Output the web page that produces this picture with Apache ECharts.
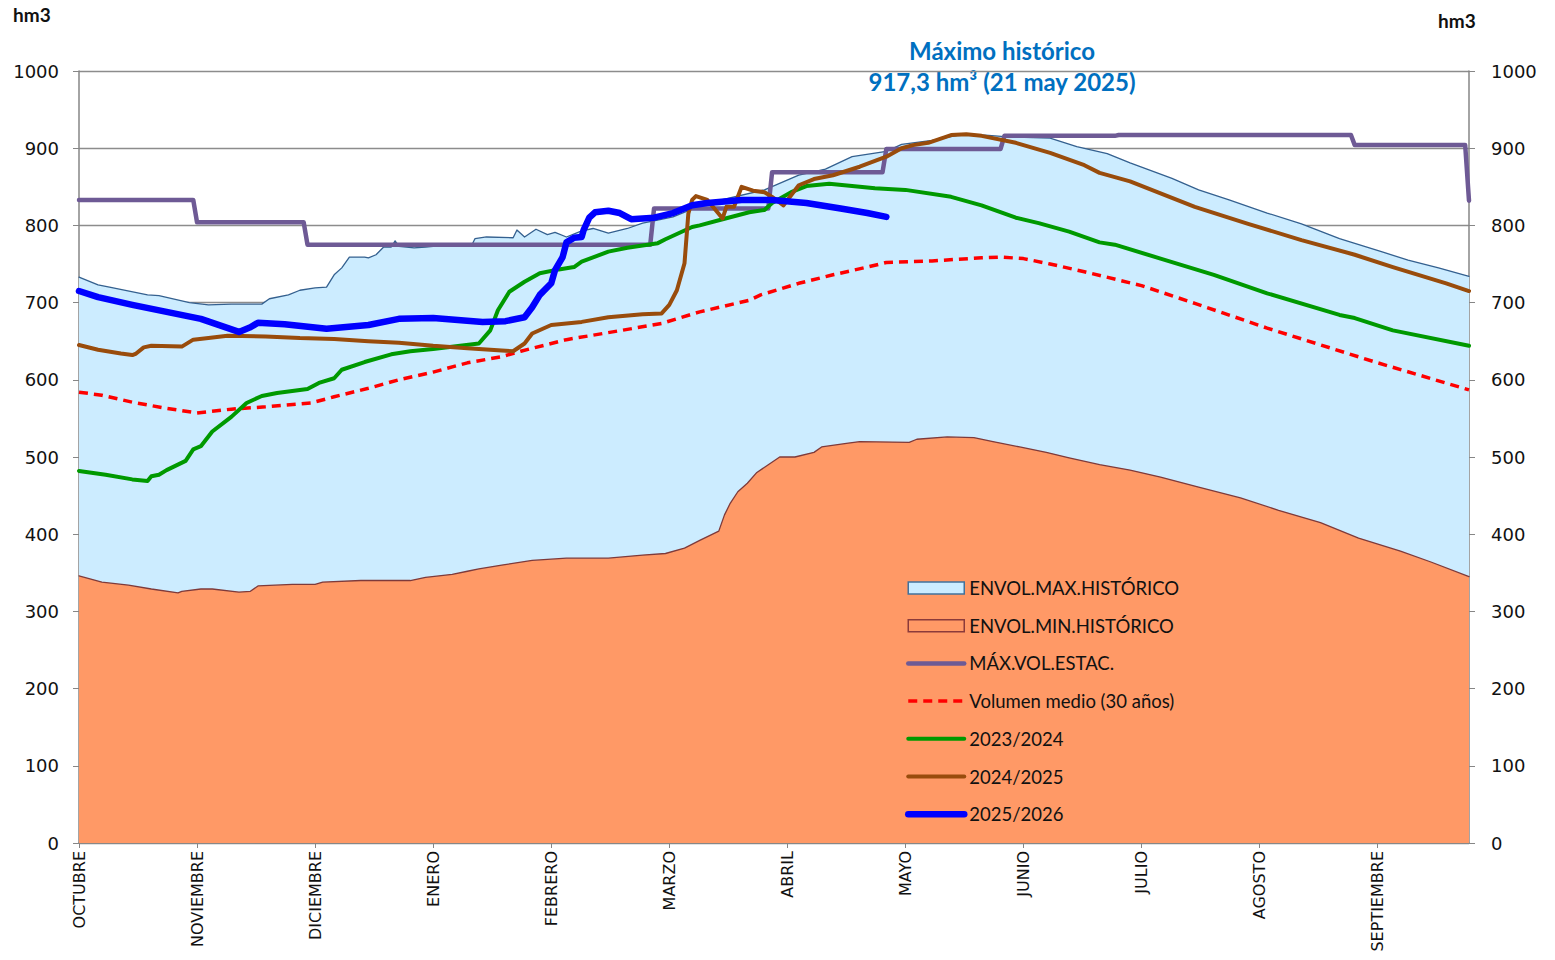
<!DOCTYPE html>
<html>
<head>
<meta charset="utf-8">
<title>Volumen embalsado</title>
<script src="https://cdn.jsdelivr.net/npm/echarts@6/dist/echarts.min.js"></script>
<style>
  html, body { margin: 0; padding: 0; background: #fff; }
  #chart { width: 1555px; height: 960px; }
</style>
</head>
<body>
<div id="chart"></div>
<script>
// eje x: día del año hidrológico (0 = 1 oct), etiqueta cada 31 días
var months = ['OCTUBRE', 'NOVIEMBRE', 'DICIEMBRE', 'ENERO', 'FEBRERO', 'MARZO',
  'ABRIL', 'MAYO', 'JUNIO', 'JULIO', 'AGOSTO', 'SEPTIEMBRE'];
var yTicks = [0, 100, 200, 300, 400, 500, 600, 700, 800, 900, 1000];

// [día, hm3]
var envMax = [[0,733],[5,723],[8,720],[18,710],[21,709],[29,700],[34,697],[40,698],[48,698],[50,705],
  [55,710],[58,716],[62,719],[65,720],[67,736],[69,745],[71,759],[75,759],[76,758],[78,762],[80,772],
  [82,772],[83,780],[84,773],[88,771],[91,772],[93,773],[103,773],[104,783],[107,785],[114,784],
  [115,794],[117,785],[120,795],[123,788],[125,791],[128,785],[132,793],[135,796],[139,790],[144,796],
  [148,803],[151,806],[156,811],[165,829],[180,846],[189,865],[196,873],[203,889],[212,896],[216,905],
  [224,910],[232,918],[238,917],[243,915],[255,913],[262,902],[270,893],[276,881],[287,861],[294,846],
  [302,833],[312,816],[321,802],[331,783],[342,766],[349,755],[357,745],[365,734]];
var envMin = [[0,346],[6,338],[13,334],[19,329],[26,324],[27,326],[32,329],[35,329],[42,325],[45,326],
  [47,333],[56,335],[62,335],[64,338],[74,340],[87,340],[91,344],[98,348],[102,352],[105,355],[111,360],
  [119,366],[128,369],[139,369],[148,373],[154,375],[159,382],[163,392],[168,404],[169.5,425],[171,440],
  [173,455],[175.5,466],[178,480],[181,490],[184,500],[188,500],[193,506],[195,513],[202,518],[205,520],
  [218,519],[220,523],[228,526],[235,525],[240,520],[247,513],[254,506],[260,499],[268,490],[276,483],
  [284,474],[294,461],[305,447],[315,431],[326,415],[336,395],[347,378],[355,364],[365,345]];
var maxVolEstac = [[0,833],[30,833],[31,804],[59,804],[60,775],[150,775],[151,822],[181,822],[182,869],
  [211,869],[212,899],[242,899],[243,916],[272,916],[273,917],[334,917],[335,904],[364,904],[365,832]];
var volMedio = [[0,584],[6,580],[14,571],[23,563],[31,557],[40,562],[49,565],[61,570],[67,578],[76,589],
  [84,600],[93,610],[102,622],[111,630],[116,637],[128,652],[146,667],[153,673],[163,688],[176,703],
  [179,710],[189,725],[198,736],[207,746],[212,752],[224,754],[237,758],[242,759],[248,757],[255,750],
  [264,740],[279,722],[293,699],[312,667],[341,622],[365,587]];
var y2324 = [[0,482],[7,477],[14,471],[18,469],[19,475],[21,477],[23,483],[28,495],[30,510],[32,514],
  [35,533],[40,552],[44,570],[48,579],[52,583],[60,588],[63,596],[67,602],[69,613],[75,623],[82,633],
  [87,637],[93,640],[105,647],[108,664],[110,690],[113,714],[117,727],[121,738],[126,743],[130,746],
  [132,753],[139,766],[144,771],[152,777],[154,782],[161,798],[163,800],[169,808],[176,817],[180,820],
  [182,829],[187,843],[191,851],[197,854],[209,848],[217,846],[229,837],[237,826],[246,810],[252,803],
  [260,792],[268,778],[272,775],[284,757],[298,736],[312,712],[331,684],[335,680],[345,664],[365,644]];
var y2425 = [[0,645],[5,639],[11,634],[14,632],[15,634],[17,642],[19,644],[27,643],[30,652],[34,654],
  [39,657],[49,656],[58,654],[67,653],[76,650],[84,648],[93,644],[102,641],[111,638],[114,637],[117,647],
  [119,660],[124,671],[132,675],[139,681],[148,685],[153,686],[155,697],[157,716],[159,751],[160,815],
  [161,833],[162,838],[165,833],[169,809],[170,824],[172,824],[174,850],[177,845],[180,843],[182,837],
  [185,826],[187,839],[189,852],[193,860],[198,865],[205,876],[212,889],[216,900],[219,904],[223,907],
  [229,917],[233,918],[237,916],[246,907],[255,894],[264,878],[268,868],[276,857],[293,824],[307,802],
  [321,781],[335,762],[345,746],[359,725],[365,715]];
var y2526 = [[0,715],[5,707],[14,697],[23,688],[32,679],[42,662],[45,668],[47,674],[54,672],[65,666],
  [76,671],[84,679],[93,680],[106,675],[112,676],[117,681],[119,694],[121,710],[124,725],[125,742],
  [127,759],[128,778],[130,784],[132,785],[132.5,794],[134,810],[135.5,817],[139,819],[142,816],
  [145,808],[151,810],[156,816],[161,826],[165,829],[174,833],[182,833],[191,829],[200,822],[207,816],
  [212,811]];

var names = ['ENVOL.MAX.HISTÓRICO', 'ENVOL.MIN.HISTÓRICO', 'MÁX.VOL.ESTAC.',
  'Volumen medio (30 años)', '2023/2024', '2024/2025', '2025/2026'];

var chart = echarts.init(document.getElementById('chart'), null, { renderer: 'svg' });

var axisGray = '#868686';
var labelFont = 'DejaVu Sans';

function lineSeries(name, data, color, width, extra) {
  var s = {
    name: name,
    type: 'line',
    data: data,
    symbol: 'none',
    showSymbol: false,
    animation: false,
    lineStyle: { color: color, width: width, join: 'round', cap: 'round' },
    itemStyle: { color: color }
  };
  if (extra) Object.assign(s, extra);
  return s;
}

var noSymbol = { opacity: 0 };

var option = {
  backgroundColor: '#fff',
  animation: false,
  grid: { left: 79, right: 86, top: 71, bottom: 117 },
  legend: {
    orient: 'vertical',
    left: 905,
    top: 578,
    padding: 0,
    itemWidth: 56,
    itemHeight: 12,
    itemGap: 17.7,
    selectedMode: false,
    textStyle: { fontFamily: 'Lato', fontSize: 18.5, color: '#111', lineHeight: 20 },
    data: [
      { name: names[0], icon: 'rect', itemStyle: { color: '#CCECFF', borderColor: '#41719C', borderWidth: 1.5 } },
      { name: names[1], icon: 'rect', itemStyle: { color: '#FF9966', borderColor: '#8B3A3A', borderWidth: 1.5 } },
      { name: names[2], lineStyle: { width: 4.5 }, itemStyle: noSymbol },
      { name: names[3], lineStyle: { width: 3.5, type: [9, 6] }, itemStyle: noSymbol },
      { name: names[4], lineStyle: { width: 4 }, itemStyle: noSymbol },
      { name: names[5], lineStyle: { width: 4 }, itemStyle: noSymbol },
      { name: names[6], lineStyle: { width: 6.5 }, itemStyle: noSymbol }
    ]
  },
  xAxis: {
    type: 'value',
    min: 0,
    max: 365,
    interval: 31,
    splitLine: { show: false },
    axisLine: { show: true, onZero: false, lineStyle: { color: axisGray, width: 1.5 } },
    axisTick: { show: true, length: 5, lineStyle: { color: axisGray } },
    axisLabel: {
      rotate: 90,
      margin: 8,
      fontFamily: labelFont,
      fontSize: 16,
      color: '#111',
      showMaxLabel: false,
      formatter: function (v) {
        return v % 31 === 0 && months[v / 31] ? months[v / 31] : '';
      }
    }
  },
  yAxis: [
    {
      type: 'value',
      position: 'left',
      min: 0,
      max: 1000,
      interval: 100,
      axisLine: { show: true, lineStyle: { color: axisGray, width: 1.5 } },
      axisTick: { show: true, length: 6, lineStyle: { color: axisGray } },
      splitLine: { show: true, lineStyle: { color: '#8C8C8C', width: 1.3 } },
      axisLabel: { margin: 20, fontFamily: labelFont, fontSize: 18, color: '#111',
        formatter: function (v) { return String(v); } }
    },
    {
      type: 'value',
      position: 'right',
      min: 0,
      max: 1000,
      interval: 100,
      axisLine: { show: true, lineStyle: { color: axisGray, width: 1.5 } },
      axisTick: { show: true, length: 6, lineStyle: { color: axisGray } },
      splitLine: { show: false },
      axisLabel: { margin: 22, fontFamily: labelFont, fontSize: 18, color: '#111',
        formatter: function (v) { return String(v); } }
    }
  ],
  series: [
    lineSeries(names[0], envMax, '#34608F', 1.3, { areaStyle: { color: '#CCECFF', opacity: 1 } }),
    lineSeries(names[1], envMin, '#7E3A3A', 1.3, { areaStyle: { color: '#FF9966', opacity: 1 } }),
    lineSeries(names[2], maxVolEstac, '#6E5A95', 4.5),
    lineSeries(names[3], volMedio, '#FF0000', 3.5, { lineStyle: { color: '#FF0000', width: 3.5, type: [9, 6] } }),
    lineSeries(names[4], y2324, '#009900', 4),
    lineSeries(names[5], y2425, '#994C0C', 4),
    lineSeries(names[6], y2526, '#0000FF', 6.5)
  ],
  graphic: [
    { type: 'text', left: 13, top: 5, style: { text: 'hm3', font: 'bold 19px Lato', fill: '#111' } },
    { type: 'text', left: 1438, top: 11, style: { text: 'hm3', font: 'bold 19px Lato', fill: '#111' } },
    { type: 'text', x: 1002, y: 50, style: { text: 'Máximo histórico', font: 'bold 24px Lato',
      fill: '#0070C0', textAlign: 'center', textVerticalAlign: 'middle' } },
    { type: 'text', x: 1002, y: 81, style: { text: '917,3 hm³ (21 may 2025)', font: 'bold 24px Lato',
      fill: '#0070C0', textAlign: 'center', textVerticalAlign: 'middle' } },
    { type: 'text', x: 242, y: 634, style: { text: 'Mínimo histórico', font: 'bold 24px Lato',
      fill: '#111', textAlign: 'center', textVerticalAlign: 'middle' } },
    { type: 'text', x: 242, y: 664, style: { text: '324 hm³ (28 oct 2005)', font: 'bold 24px Lato',
      fill: '#111', textAlign: 'center', textVerticalAlign: 'middle' } }
  ]
};

chart.setOption(option);
window.addEventListener('resize', function () {
  chart.resize();
});
</script>
</body>
</html>
